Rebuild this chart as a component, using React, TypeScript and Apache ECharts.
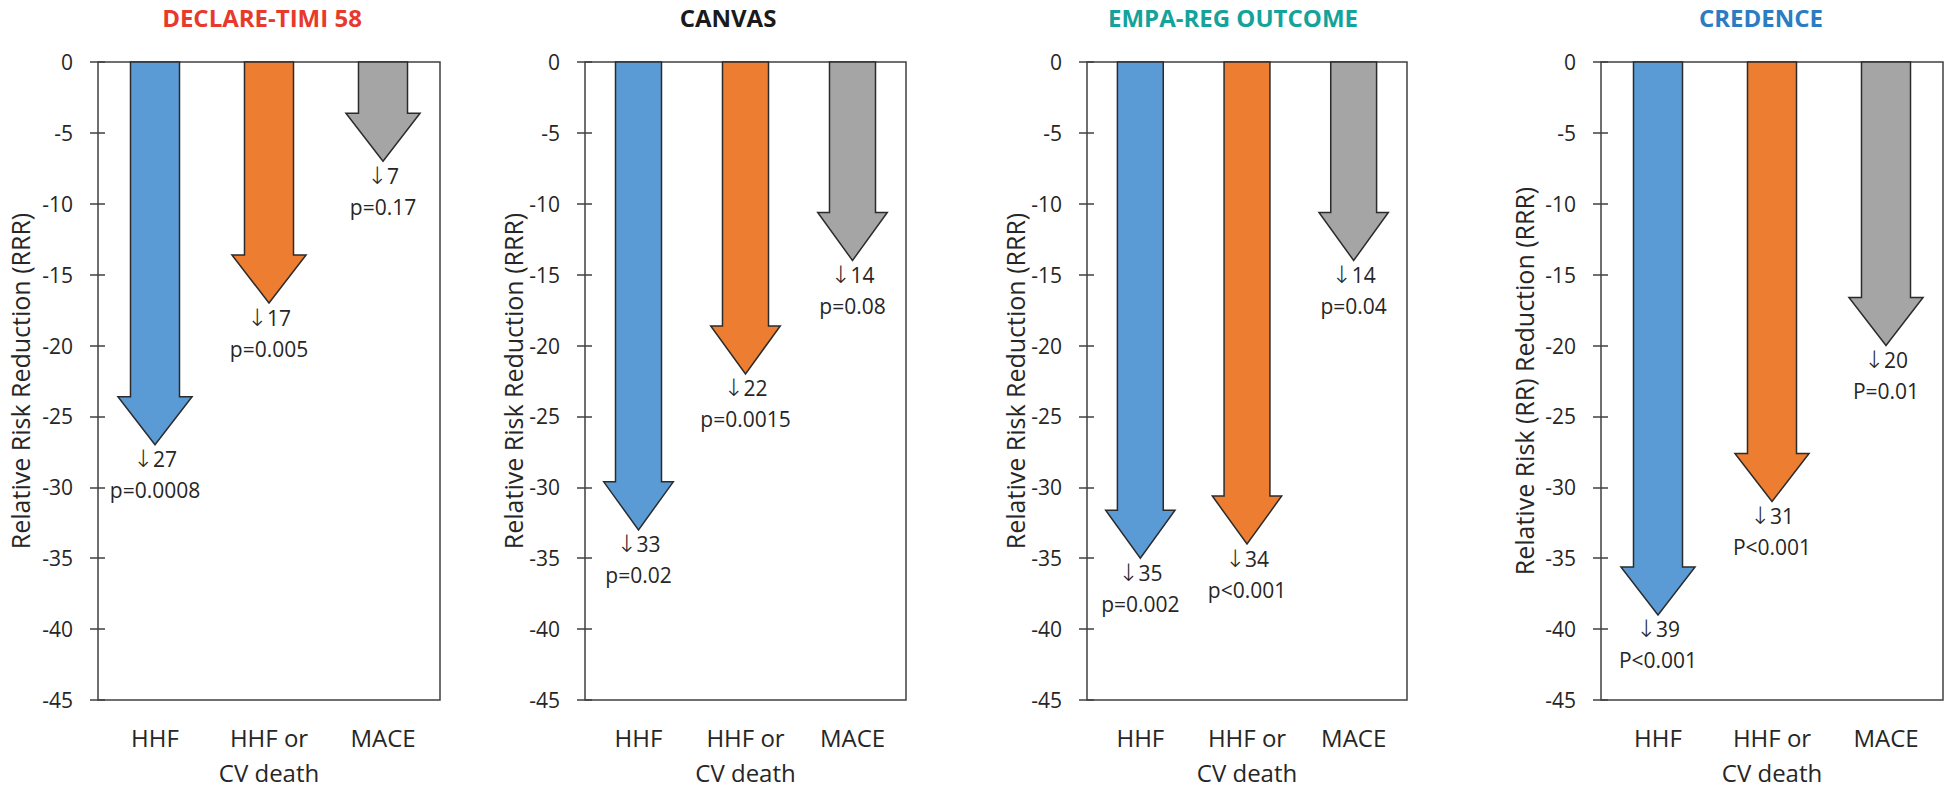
import React, { useEffect, useRef } from "react";
import * as echarts from "echarts";

const categories = ["HHF", "HHF or\nCV death", "MACE"];
const trialNames = ["DECLARE-TIMI 58", "CANVAS", "EMPA-REG OUTCOME", "CREDENCE"];
const titleColors = ["#E8392D", "#1A1A1A", "#13A39A", "#2B7CC2"];
const yAxisNames = [
  "Relative Risk Reduction (RRR)",
  "Relative Risk Reduction (RRR)",
  "Relative Risk Reduction (RRR)",
  "Relative Risk (RR) Reduction (RRR)",
];

const declareValues = [-27, -17, -7];
const declarePValues = ["p=0.0008", "p=0.005", "p=0.17"];
const canvasValues = [-33, -22, -14];
const canvasPValues = ["p=0.02", "p=0.0015", "p=0.08"];
const empaValues = [-35, -34, -14];
const empaPValues = ["p=0.002", "p<0.001", "p=0.04"];
const credenceValues = [-39, -31, -20];
const credencePValues = ["P<0.001", "P<0.001", "P=0.01"];

const allValues = [declareValues, canvasValues, empaValues, credenceValues];
const allPValues = [declarePValues, canvasPValues, empaPValues, credencePValues];

const yMin = -45;
const yMax = 0;
const yInterval = 5;

const arrowColors = ["#5B9BD5", "#ED7D31", "#A5A5A5"];

// layout
const gridLefts = [98, 585, 1087, 1601];
const gridWidths = [342, 321, 320, 342];
const gridTop = 62;
const gridHeight = 638;
const titleCenters = [262, 728, 1233, 1761];
const nameGaps = [66, 59, 60, 65];

const FONT = "'Open Sans', 'DejaVu Sans', sans-serif";
const TEXT = "#262626";

export default function App() {
  const ref = useRef<HTMLDivElement>(null);

  useEffect(() => {
    if (!ref.current) return;
    const chart = echarts.init(ref.current, null, { renderer: "svg" });

    const grid: any[] = [];
    const xAxis: any[] = [];
    const yAxis: any[] = [];
    const series: any[] = [];
    const graphic: any[] = [];

    trialNames.forEach((name, p) => {
      grid.push({
        left: gridLefts[p],
        top: gridTop,
        width: gridWidths[p],
        height: gridHeight,
        show: true,
        borderColor: "#404040",
        borderWidth: 1.5,
        backgroundColor: "transparent",
      });
      xAxis.push({
        type: "category",
        gridIndex: p,
        data: categories,
        position: "bottom",
        axisLine: { show: false },
        axisTick: { show: false },
        axisLabel: {
          interval: 0,
          margin: 20,
          fontSize: 24,
          lineHeight: 35,
          color: TEXT,
          fontFamily: FONT,
        },
        splitLine: { show: false },
      });
      yAxis.push({
        type: "value",
        gridIndex: p,
        min: yMin,
        max: yMax,
        interval: yInterval,
        position: "left",
        name: yAxisNames[p],
        nameLocation: "middle",
        nameRotate: 90,
        nameGap: nameGaps[p],
        nameTextStyle: { fontSize: 25, color: TEXT, fontFamily: FONT },
        axisLine: { show: false },
        axisTick: { show: true, length: 8, lineStyle: { color: "#404040", width: 1.5 } },
        axisLabel: { margin: 25, fontSize: 21, color: TEXT, fontFamily: FONT },
        splitLine: { show: false },
      });
      yAxis.push({
        type: "value",
        gridIndex: p,
        min: yMin,
        max: yMax,
        interval: yInterval,
        position: "left",
        axisLine: { show: false },
        axisTick: { show: true, inside: true, length: 7, lineStyle: { color: "#404040", width: 1.5 } },
        axisLabel: { show: false },
        splitLine: { show: false },
      });

      const values = allValues[p];
      const pvals = allPValues[p];
      series.push({
        type: "custom",
        xAxisIndex: p,
        yAxisIndex: p * 2,
        data: values.map((v, i) => [i, v]),
        renderItem: (params: any, api: any) => {
          const idx = api.value(0);
          const v = api.value(1);
          const top = api.coord([idx, 0]);
          const tip = api.coord([idx, v]);
          const band = api.size([1, 0])[0];
          const sw = band * 0.215;
          const hw = band * 0.325;
          const hh = 48;
          const cx = top[0];
          const neck = tip[1] - hh;
          const points = [
            [cx - sw, top[1]],
            [cx + sw, top[1]],
            [cx + sw, neck],
            [cx + hw, neck],
            [cx, tip[1]],
            [cx - hw, neck],
            [cx - sw, neck],
          ];
          return {
            type: "group",
            children: [
              {
                type: "polygon",
                shape: { points },
                style: { fill: arrowColors[idx], stroke: "#2b2b2b", lineWidth: 1.5 },
              },
              {
                type: "text",
                x: cx,
                y: tip[1] - 1,
                style: {
                  text: "{a|\u2193}{n|" + Math.abs(v) + "}\n{n|" + pvals[idx] + "}",
                  textAlign: "center",
                  textVerticalAlign: "top",
                  fontSize: 21,
                  lineHeight: 31,
                  fill: TEXT,
                  fontFamily: FONT,
                  rich: {
                    a: {
                      fontFamily: "'DejaVu Sans', sans-serif",
                      fontSize: 24,
                      fontWeight: 200,
                      lineHeight: 31,
                      fill: TEXT,
                    },
                    n: { fontFamily: FONT, fontSize: 21, lineHeight: 31, fill: TEXT },
                  },
                },
              },
            ],
          };
        },
      });

      graphic.push({
        type: "text",
        x: titleCenters[p],
        y: 17,
        style: {
          text: name,
          textAlign: "center",
          textVerticalAlign: "middle",
          fontSize: 24,
          fontWeight: "bold",
          fill: titleColors[p],
          fontFamily: FONT,
        },
      });
    });

    chart.setOption({
      animation: false,
      backgroundColor: "#ffffff",
      grid,
      xAxis,
      yAxis,
      series,
      graphic,
    });

    return () => chart.dispose();
  }, []);

  return (
    <div
      ref={ref}
      style={{ position: "absolute", left: 0, top: 0, width: 1951, height: 790 }}
    />
  );
}
